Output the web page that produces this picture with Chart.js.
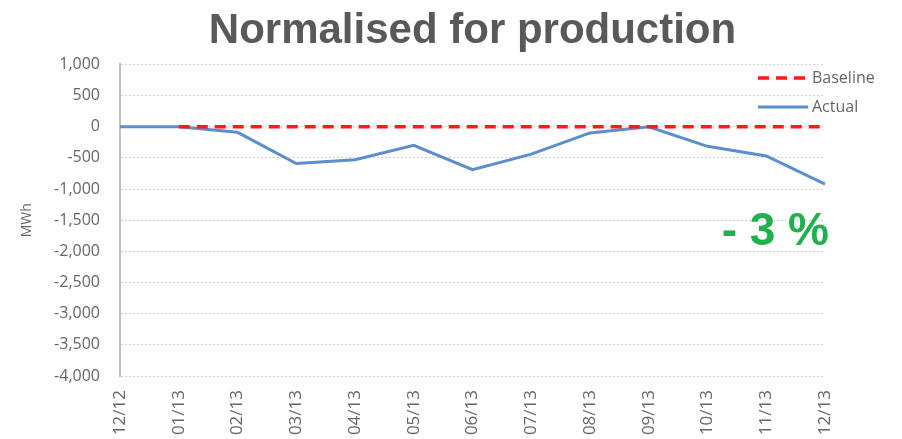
<!DOCTYPE html>
<html>
<head>
<meta charset="utf-8">
<script src="https://cdn.jsdelivr.net/npm/chart.js@4.4.1/dist/chart.umd.min.js"></script>
<style>
  html, body { margin: 0; padding: 0; background: #fff; }
  #wrap { width: 902px; height: 439px; }
</style>
</head>
<body>
<div id="wrap"><canvas id="grafico"></canvas></div>
<script>
// ===== DADOS =====
const meses = ['12/12', '01/13', '02/13', '03/13', '04/13', '05/13', '06/13',
               '07/13', '08/13', '09/13', '10/13', '11/13', '12/13'];
const baseline = [null, 0, 0, 0, 0, 0, 0, 0, 0, 0, 0, 0, 0];
const actual = [0, 0, -90, -590, -530, -300, -690, -440, -100, 0, -315, -470, -920];
const yTicks = [1000, 500, 0, -500, -1000, -1500, -2000, -2500, -3000, -3500, -4000];
const variacao = '- 3 %';

const cinza = '#595959';
const fonteEixo = 'Open Sans';

// legenda desenhada dentro da área do gráfico, canto superior direito
const legendaInterna = {
    id: 'legendaInterna',
    afterDraw(chart) {
        const ctx = chart.ctx;
        const area = chart.chartArea;
        ctx.save();
        chart.data.datasets.forEach((ds, i) => {
            const y = 78 + i * 29;
            const x0 = area.right - 67;
            ctx.beginPath();
            ctx.strokeStyle = ds.borderColor;
            ctx.lineWidth = ds.borderWidth;
            ctx.setLineDash(ds.borderDash || []);
            ctx.moveTo(x0, y);
            ctx.lineTo(x0 + 50, y);
            ctx.stroke();
            ctx.setLineDash([]);
            ctx.fillStyle = '#666';
            ctx.font = '16px "' + fonteEixo + '"';
            ctx.textBaseline = 'middle';
            ctx.fillText(ds.label, x0 + 54, y);
        });

        // variação em destaque
        ctx.fillStyle = '#1fb14b';
        ctx.font = 'bold 46px "Liberation Sans"';
        ctx.textAlign = 'right';
        ctx.textBaseline = 'middle';
        ctx.fillText(variacao, area.right + 4, 232);
        ctx.restore();
    }
};

new Chart(document.getElementById('grafico'), {
    type: 'line',
    data: {
        labels: meses,
        datasets: [
            {
                label: 'Baseline',
                data: baseline,
                borderColor: '#ff1a1a',
                borderWidth: 3.5,
                borderDash: [11, 7],
                pointRadius: 0,
                tension: 0
            },
            {
                label: 'Actual',
                data: actual,
                borderColor: '#5a8ecf',
                borderWidth: 3,
                pointRadius: 0,
                tension: 0
            }
        ]
    },
    options: {
        responsive: true,
        maintainAspectRatio: false,
        animation: false,
        layout: { padding: { top: 6, right: 77, left: 0, bottom: 0 } },
        plugins: {
            legend: { display: false },
            tooltip: { enabled: false },
            title: {
                display: true,
                fullSize: false,
                text: 'Normalised for production',
                color: cinza,
                font: { family: 'Liberation Sans', size: 42, weight: 'bold' },
                padding: { top: 0, bottom: 8 }
            }
        },
        scales: {
            x: {
                offset: false,
                grid: { display: false },
                border: { display: false },
                ticks: {
                    color: '#666',
                    font: { family: fonteEixo, size: 17 },
                    minRotation: 90,
                    maxRotation: 90,
                    padding: 6
                },
                afterFit(scale) { scale.height = 63; }
            },
            y: {
                min: -4000,
                max: 1000,
                afterBuildTicks(scale) {
                    scale.ticks = yTicks.map(v => ({ value: v }));
                },
                grid: {
                    color: '#d2d2d2',
                    lineWidth: 1,
                    drawTicks: false
                },
                border: { display: true, color: '#bfbfbf', width: 2, dash: [2, 2] },
                ticks: {
                    color: '#666',
                    font: { family: fonteEixo, size: 16 },
                    padding: 20,
                    callback: v => v.toLocaleString('en-US')
                },
                title: {
                    display: true,
                    text: 'MWh',
                    color: '#666',
                    font: { family: fonteEixo, size: 14 },
                    padding: { top: 19, bottom: 0 }
                },
                afterFit(scale) { scale.width = 120; }
            }
        }
    },
    plugins: [legendaInterna]
});
</script>
</body>
</html>
